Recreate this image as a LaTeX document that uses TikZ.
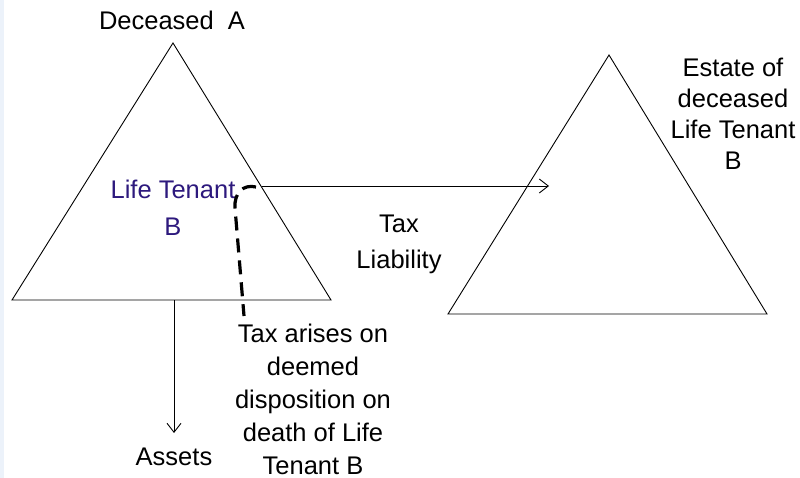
\documentclass[tikz,border=0pt]{standalone}
\usepackage{fontspec}
\setmainfont{Liberation Sans}
\usetikzlibrary{arrows.meta}
\definecolor{tenantblue}{RGB}{45,25,125}
\definecolor{stripblue}{RGB}{236,242,250}
\begin{document}
\begin{tikzpicture}[x=1pt,y=-1pt,
  lbl/.style={align=center,inner sep=0pt,font=\fontsize{25.5}{31}\selectfont},
  tri/.style={draw=black,line width=0.9pt,line join=miter},
  thinarrow/.style={draw=black,line width=0.9pt,-{Straight Barb[length=9pt,width=14pt,line width=0.9pt]}},
  dashpath/.style={draw=black,line width=3.2pt,dash pattern=on 14pt off 8pt}]
\useasboundingbox (0,0) rectangle (800,478);
\fill[white] (0,0) rectangle (800,478);
\fill[stripblue] (0,0) rectangle (4,478);
% left triangle
\coordinate (LA) at (173,43);
\coordinate (LL) at (12,300);
\coordinate (LR) at (331,300);
\draw[tri] (LA) -- (LL) -- (LR) -- cycle;
% right triangle
\coordinate (RA) at (609,55);
\coordinate (RL) at (448,314);
\coordinate (RR) at (767,314);
\draw[tri] (RA) -- (RL) -- (RR) -- cycle;
% labels
\node[lbl] (deceased) at (172,20) {Deceased\ \ A};
\node[lbl,text=tenantblue,font=\fontsize{25.5}{37}\selectfont] (tenant) at (173,208) {Life Tenant\\B};
\node[lbl] (estate) at (733,114) {Estate of\\deceased\\Life Tenant\\B};
\node[lbl,font=\fontsize{25.5}{36}\selectfont] (taxliab) at (399,244) {Tax\\Liability};
\node[lbl,font=\fontsize{25.5}{33}\selectfont] (arises) at (313,399) {Tax arises on\\deemed\\disposition on\\death of Life\\Tenant B};
\node[lbl] (assets) at (174,457) {Assets};
% connectors
\coordinate (hstart) at (262,186);
\coordinate (hend) at (549,186);
\draw[thinarrow] (hstart) -- (hend);
\coordinate (vstart) at (174,300);
\coordinate (vend) at (174,433);
\draw[thinarrow] (vstart) -- (vend);
\coordinate (dstart) at (256,187);
\coordinate (dbend) at (235,208);
\coordinate (dend) at (244,316);
\draw[dashpath] (dstart) .. controls (243,184) and (234,193) .. (dbend) -- (dend);
\end{tikzpicture}
\end{document}
